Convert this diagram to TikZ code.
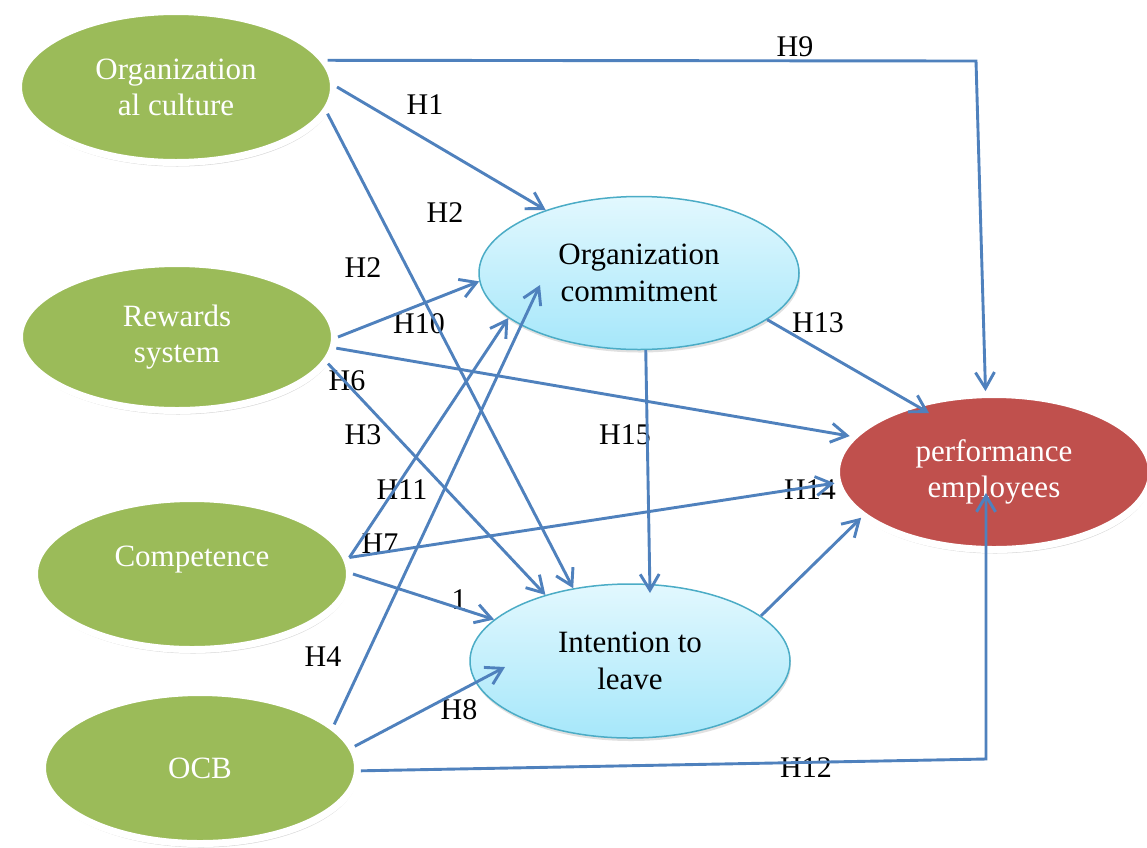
\documentclass[tikz,border=0pt]{standalone}
\usepackage{fontspec}
\setmainfont{Liberation Serif}
\usetikzlibrary{arrows.meta,shapes.geometric,shadows,calc}
\definecolor{grn}{HTML}{9BBB59}
\definecolor{rd}{HTML}{C0504D}
\definecolor{arr}{HTML}{4F81BD}
\definecolor{bbord}{HTML}{4BACC6}
\definecolor{btop}{HTML}{E2F8FE}
\definecolor{bbot}{HTML}{A6E7FA}
\begin{document}
\begin{tikzpicture}[x=1pt,y=-1pt,
  var/.style={ellipse, draw=white, line width=7pt, minimum width=315pt, minimum height=151pt,
    text=white, align=center, font=\fontsize{31}{36}\selectfont, inner sep=0pt,
    drop shadow={shadow xshift=1pt,shadow yshift=-4pt,opacity=0.25,fill=black!60}},
  med/.style={ellipse, draw=bbord, line width=1.5pt, top color=btop, bottom color=bbot,
    minimum width=320pt, minimum height=153pt, text=black, align=center,
    font=\fontsize{31}{37}\selectfont, inner sep=0pt,
    drop shadow={shadow xshift=1pt,shadow yshift=-3pt,opacity=0.2,fill=black!60}},
  hyp/.style={font=\fontsize{30}{36}\selectfont, inner sep=0pt, text=black},
  link/.style={draw=arr, line width=2.9pt, line join=miter, -{Straight Barb[length=16pt,width=19pt]}}]
\useasboundingbox (0,0) rectangle (1147,847);
\fill[white] (0,0) rectangle (1147,847);

% nodes
\node[var, fill=grn] (oc) at (176,87) {Organization\\al culture};
\node[var, fill=grn, minimum height=147pt] (rw) at (177,337) {Rewards\\system};
\node[var, fill=grn] (cp) at (192,574) {Competence\\\mbox{}};
\node[var, fill=grn] (ocb) at (200,768) {OCB};
\node[var, fill=rd, minimum height=155pt] (pe) at (994,472) {performance\\employees};
\node[med] (com) at (639,273) {Organization\\commitment};
\node[med, minimum height=154pt] (il) at (630,661) {Intention to\\leave};

% labels
\node[hyp] (l9) at (795,47) {H9};
\node[hyp] (l1) at (425,105) {H1};
\node[hyp] (l2a) at (445,213) {H2};
\node[hyp] (l2b) at (363,268) {H2};
\node[hyp] (l10) at (419,324) {H10};
\node[hyp] (l13) at (818,323) {H13};
\node[hyp] (l6) at (347,381) {H6};
\node[hyp] (l3) at (363,435) {H3};
\node[hyp] (l15) at (625,435) {H15};
\node[hyp] (l11) at (402,490) {H11};
\node[hyp] (l14) at (810,490) {H14};
\node[hyp] (l7) at (380,544) {H7};
\node[hyp] (lone) at (459,600) {1};
\node[hyp] (l4) at (323,657) {H4};
\node[hyp] (l8) at (459,710) {H8};
\node[hyp] (l12) at (806,768) {H12};

% corners
\coordinate (c9) at (976,61);
\coordinate (c12) at (986,759);

% connectors
\draw[link] (oc.10) -- (c9) -- (pe.96);
\draw[link] (oc.0) -- (com.146);
\draw[link] (oc.-10) -- (il.128);
\draw[link] (rw.0) -- (com.183);
\draw[link] (rw.-4) -- (pe.166);
\draw[link] (rw.-10) -- (il.142);
\draw[link] (cp.6) -- (com.199);
\draw[link] (cp.6) -- (pe.184);
\draw[link] (cp.0) -- (il.163);
\draw[link] (ocb.18) -- ($(com.center)+(-99,12)$);
\draw[link] (ocb.8) -- ($(il.center)+(-125,6)$);
\draw[link] (ocb.-1.5) -- (c12) -- ($(pe.center)+(-8,21)$);
\draw[link] (com.-20) -- ($(pe.center)+(-65,-59)$);
\draw[link] (com.-85) -- ($(il.center)+(20,-68)$);
\draw[link] (il.19) -- (pe.199);
\end{tikzpicture}
\end{document}
